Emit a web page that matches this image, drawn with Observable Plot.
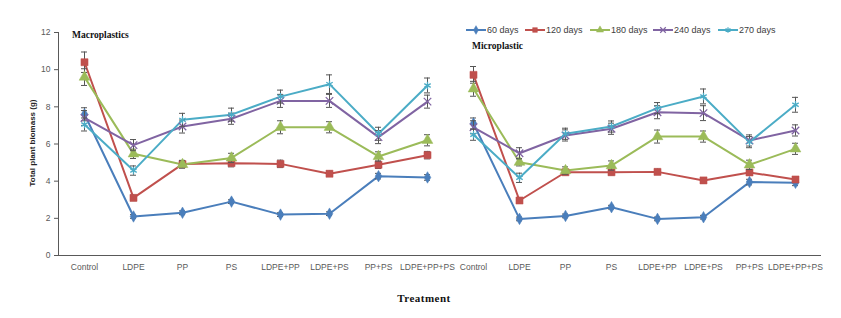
<!DOCTYPE html>
<html>
<head>
<meta charset="utf-8">
<script src="https://cdn.jsdelivr.net/npm/d3@7"></script>
<script src="https://cdn.jsdelivr.net/npm/@observablehq/plot@0.6"></script>
<style>
  html, body { margin: 0; padding: 0; background: #fff; }
  #wrap { position: relative; width: 841px; height: 318px; overflow: hidden; font-family: "Liberation Sans", Arial, sans-serif; }
  .abs { position: absolute; }
  .panel-title { font-family: "Liberation Serif", "Times New Roman", serif; font-weight: bold; font-size: 9.5px; color: #111; white-space: nowrap; }
  .leg { font-size: 9px; color: #404040; white-space: nowrap; display: flex; align-items: center; }
</style>
</head>
<body>
<div id="wrap"></div>
<script>
const categories = ["Control", "LDPE", "PP", "PS", "LDPE+PP", "LDPE+PS", "PP+PS", "LDPE+PP+PS"];
const seriesNames = ["60 days", "120 days", "180 days", "240 days", "270 days"];
const seriesColors = ["#4a7ebb", "#c0504d", "#9bbb59", "#8064a2", "#4bacc6"];
const seriesSymbols = ["diamond", "square", "triangle", "times", "asterisk"];
const yTicks = [0, 2, 4, 6, 8, 10, 12];

// Macroplastics
const macro60  = [7.6, 2.1, 2.3, 2.9, 2.2, 2.25, 4.27, 4.2];
const macro120 = [10.4, 3.1, 4.92, 4.97, 4.93, 4.4, 4.88, 5.4];
const macro180 = [9.6, 5.47, 4.9, 5.25, 6.9, 6.9, 5.33, 6.2];
const macro240 = [7.4, 5.94, 6.94, 7.36, 8.32, 8.32, 6.37, 8.28];
const macro270 = [7.05, 4.57, 7.3, 7.58, 8.55, 9.22, 6.55, 9.15];
const macroErr60  = [0.35, 0.1, 0.1, 0.1, 0.1, 0.1, 0.15, 0.15];
const macroErr120 = [0.55, 0.15, 0.2, 0.2, 0.2, 0.15, 0.2, 0.2];
const macroErr180 = [0.45, 0.25, 0.2, 0.25, 0.35, 0.3, 0.25, 0.3];
const macroErr240 = [0.4, 0.3, 0.35, 0.3, 0.35, 0.35, 0.35, 0.35];
const macroErr270 = [0.35, 0.25, 0.35, 0.35, 0.35, 0.5, 0.35, 0.4];

// Microplastic
const micro60  = [7.1, 1.97, 2.13, 2.6, 1.97, 2.06, 3.95, 3.91];
const micro120 = [9.72, 2.96, 4.48, 4.48, 4.5, 4.04, 4.47, 4.09];
const micro180 = [8.97, 5.02, 4.57, 4.84, 6.4, 6.4, 4.88, 5.74];
const micro240 = [6.9, 5.5, 6.46, 6.82, 7.71, 7.66, 6.19, 6.73];
const micro270 = [6.5, 4.18, 6.55, 6.94, 7.93, 8.56, 6.1, 8.11];
const microErr60  = [0.3, 0.1, 0.1, 0.1, 0.1, 0.1, 0.15, 0.15];
const microErr120 = [0.45, 0.15, 0.15, 0.15, 0.15, 0.15, 0.15, 0.15];
const microErr180 = [0.4, 0.2, 0.2, 0.25, 0.35, 0.3, 0.25, 0.3];
const microErr240 = [0.35, 0.3, 0.3, 0.3, 0.35, 0.4, 0.3, 0.3];
const microErr270 = [0.3, 0.25, 0.3, 0.3, 0.3, 0.4, 0.3, 0.4];

function buildRows(vals, errs) {
  const rows = [];
  seriesNames.forEach((s, si) => {
    categories.forEach((c, ci) => {
      rows.push({series: s, cat: c, value: vals[si][ci], err: errs[si][ci]});
    });
  });
  return rows;
}
const macroRows = buildRows([macro60, macro120, macro180, macro240, macro270],
                            [macroErr60, macroErr120, macroErr180, macroErr240, macroErr270]);
const microRows = buildRows([micro60, micro120, micro180, micro240, micro270],
                            [microErr60, microErr120, microErr180, microErr240, microErr270]);

function makePanel(rows, opts) {
  const marks = [];
  seriesNames.forEach((s, si) => {
    const d = rows.filter(r => r.series === s);
    marks.push(Plot.line(d, {x: "cat", y: "value", stroke: seriesColors[si], strokeWidth: 2}));
  });
  seriesNames.forEach((s, si) => {
    const d = rows.filter(r => r.series === s);
    marks.push(Plot.ruleX(d, {x: "cat", y1: r => r.value - r.err, y2: r => r.value + r.err, stroke: "#555", strokeWidth: 1}));
    marks.push(Plot.ruleY(d, {x1: "cat", x2: "cat", y: r => r.value - r.err, stroke: "#555", strokeWidth: 1, insetLeft: -3, insetRight: -3}));
    marks.push(Plot.ruleY(d, {x1: "cat", x2: "cat", y: r => r.value + r.err, stroke: "#555", strokeWidth: 1, insetLeft: -3, insetRight: -3}));
    const sym = seriesSymbols[si];
    const filled = sym === "diamond" || sym === "square" || sym === "triangle";
    marks.push(Plot.dot(d, {
      x: "cat", y: "value", symbol: () => sym,
      r: sym === "square" ? 4 : (sym === "triangle" ? 4 : 3.5),
      fill: filled ? seriesColors[si] : "none",
      stroke: seriesColors[si], strokeWidth: filled ? 0.5 : 1.3
    }));
  });
  return Plot.plot({
    width: opts.width,
    height: 280,
    marginTop: 32,
    marginBottom: 25,
    marginLeft: opts.marginLeft,
    marginRight: opts.marginRight,
    style: {fontFamily: "Liberation Sans, Arial, sans-serif", fontSize: "8.5px", color: "#595959", background: "transparent", overflow: "visible"},
    x: {type: "point", domain: categories, padding: 0.5, label: null, tickSize: 0, tickPadding: 8, line: true, axis: "bottom"},
    y: {domain: [0, 12], ticks: yTicks, tickFormat: d => d, label: null, tickSize: opts.yAxis ? 4 : 0, tickPadding: 4, line: opts.yAxis, axis: opts.yAxis ? "left" : null},
    symbol: {type: "identity"},
    marks
  });
}

const wrap = document.getElementById("wrap");

const left = makePanel(macroRows, {width: 453, marginLeft: 58, marginRight: 0, yAxis: true});
left.style.position = "absolute"; left.style.left = "0px"; left.style.top = "0px";
wrap.appendChild(left);

const right = makePanel(microRows, {width: 393, marginLeft: 0, marginRight: 21, yAxis: false});
right.style.position = "absolute"; right.style.left = "448px"; right.style.top = "0px";
wrap.appendChild(right);

function addDiv(cls, text, css) {
  const d = document.createElement("div");
  d.className = "abs " + cls;
  d.textContent = text;
  Object.assign(d.style, css);
  wrap.appendChild(d);
  return d;
}
addDiv("panel-title", "Macroplastics", {left: "72px", top: "30px"});
addDiv("panel-title", "Microplastic", {left: "472px", top: "41px"});

addDiv("", "Total plant biomass (g)", {
  left: "32px", top: "143px", fontSize: "8px", fontWeight: "bold", color: "#222",
  transform: "translate(-50%, -50%) rotate(-90deg)", whiteSpace: "nowrap"
});

addDiv("", "Treatment", {
  left: "424px", top: "298px", fontFamily: "Liberation Serif, Times New Roman, serif",
  fontSize: "11px", fontWeight: "bold", color: "#111", letterSpacing: "0.5px",
  transform: "translate(-50%, -50%)", whiteSpace: "nowrap"
});

const legendX = [466, 525, 590, 653, 718];
seriesNames.forEach((s, si) => {
  const item = document.createElement("div");
  item.className = "abs leg";
  item.style.left = legendX[si] + "px";
  item.style.top = "24px";
  const svg = d3.create("svg").attr("width", 20).attr("height", 12).style("margin-right", "1px");
  svg.append("line").attr("x1", 0).attr("x2", 20).attr("y1", 6).attr("y2", 6)
    .attr("stroke", seriesColors[si]).attr("stroke-width", 2);
  const symMap = {diamond: d3.symbolDiamond, square: d3.symbolSquare, triangle: d3.symbolTriangle, times: d3.symbolTimes, asterisk: d3.symbolAsterisk};
  const sym = seriesSymbols[si];
  const filled = sym === "diamond" || sym === "square" || sym === "triangle";
  svg.append("path").attr("d", d3.symbol(symMap[sym], 22)())
    .attr("transform", "translate(10,6)")
    .attr("fill", filled ? seriesColors[si] : "none")
    .attr("stroke", seriesColors[si]).attr("stroke-width", filled ? 0.5 : 1.2);
  item.appendChild(svg.node());
  const t = document.createElement("span");
  t.textContent = s;
  item.appendChild(t);
  wrap.appendChild(item);
});
</script>
</body>
</html>
